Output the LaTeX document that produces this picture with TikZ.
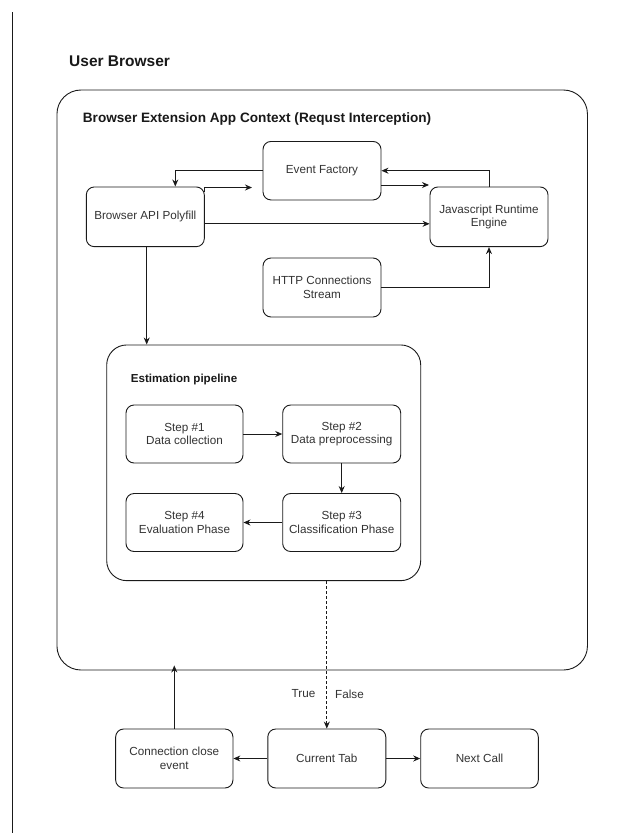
\documentclass[tikz,border=0pt]{standalone}
\usepackage{fontspec}
\setmainfont{Liberation Sans}
\usetikzlibrary{arrows.meta}
\definecolor{txt}{HTML}{333333}
\definecolor{ln}{HTML}{1A1A1A}
\newcommand{\bodyfont}{\fontsize{11.7}{13.6}\selectfont}
\begin{document}
\begin{tikzpicture}[x=1pt,y=-1pt,
  box/.style={draw=ln, line width=0.9pt, rounded corners=8pt, minimum width=118pt,
    minimum height=58.5pt, align=center, text=txt, font=\bodyfont, inner sep=2pt},
  frame/.style={draw=ln, line width=0.9pt},
  heading/.style={anchor=west, inner sep=0pt, text=black!90, font=\bfseries},
  arr/.style={draw=ln, line width=0.9pt, -{Stealth[length=7pt,width=6pt]}},
  lbl/.style={text=txt, font=\bodyfont, inner sep=0pt}]
\fill[white] (0,0) rectangle (630,833);
\useasboundingbox (0,0) rectangle (630,833);

% left rule
\draw[ln, line width=0.8pt] (12.7,12) -- (12.7,833);

% headings
\node[heading, font=\bfseries\fontsize{15.5}{18}\selectfont] (ubtitle) at (69,61) {User Browser};

% extension context container
\node[frame, rounded corners=24pt, minimum width=530.5pt, minimum height=580pt] (outer) at (322.2,380) {};
\node[heading, font=\bfseries\fontsize{13.6}{16}\selectfont] (ctxtitle) at (82.7,118.5) {Browser Extension App Context (Requst Interception)};

% runtime components
\node[box] (ef) at (322,170.7) {Event Factory};
\node[box, minimum height=59.7pt] (poly) at (145.3,216.8) {Browser API Polyfill};
\node[box, minimum height=59.7pt] (js) at (489,216.8) {Javascript Runtime\\Engine};
\node[box, minimum height=59pt] (http) at (322,287.5) {HTTP Connections\\Stream};

% estimation pipeline
\node[frame, rounded corners=20pt, minimum width=314pt, minimum height=235.7pt] (pipe) at (263.7,462.8) {};
\node[heading, font=\bfseries\fontsize{11.6}{14}\selectfont] (pipetitle) at (130.7,379.5) {Estimation pipeline};
\node[box, minimum width=117pt, minimum height=58pt] (s1) at (184.5,434) {Step \#1\\Data collection};
\node[box, minimum height=58pt] (s2) at (341.7,434) {Step \#2\\Data preprocessing};
\node[box, minimum height=58pt] (s3) at (341.7,522.5) {Step \#3\\Classification Phase};
\node[box, minimum width=117pt, minimum height=58pt] (s4) at (184.5,522.5) {Step \#4\\Evaluation Phase};

% tab handling
\node[box, minimum width=117.3pt, minimum height=59pt] (cc) at (174.3,758.5) {Connection close\\event};
\node[box, minimum height=59pt] (ct) at (326.8,758.5) {Current Tab};
\node[box, minimum width=117.6pt, minimum height=59pt] (nc) at (479.5,758.5) {Next Call};

\node[lbl] (ltrue) at (303.5,694) {True};
\node[lbl] (lfalse) at (349.5,694) {False};

% free arrow ends
\coordinate (efin) at (252,187.5);
\coordinate (jsin) at (429,185);

% connectors
\draw[arr] (ef.west) -| ([xshift=30pt]poly.north);
\draw[arr] ([yshift=-5pt]poly.north east) |- (efin);
\draw[arr] ([yshift=-14.3pt]ef.east) -- (jsin);
\draw[arr] (js.north) |- (ef.east);
\draw[arr] ([yshift=-7pt]poly.east) -- ([yshift=-7pt]js.west);
\draw[arr] (http.east) -| (js.south);
\draw[arr] ([xshift=1.4pt]poly.south) -- ([xshift=1.4pt]poly.south |- pipe.north);

\draw[arr] (s1) -- (s2);
\draw[arr] (s2) -- (s3);
\draw[arr] (s3) -- (s4);

\draw[arr, dash pattern=on 3pt off 2pt] (ct.north |- pipe.south) -- (ct.north);
\draw[arr] (ct) -- (cc);
\draw[arr] (ct) -- (nc);
\draw[arr] (cc.north) -- ([yshift=5pt]cc.north |- outer.south);
\end{tikzpicture}
\end{document}
